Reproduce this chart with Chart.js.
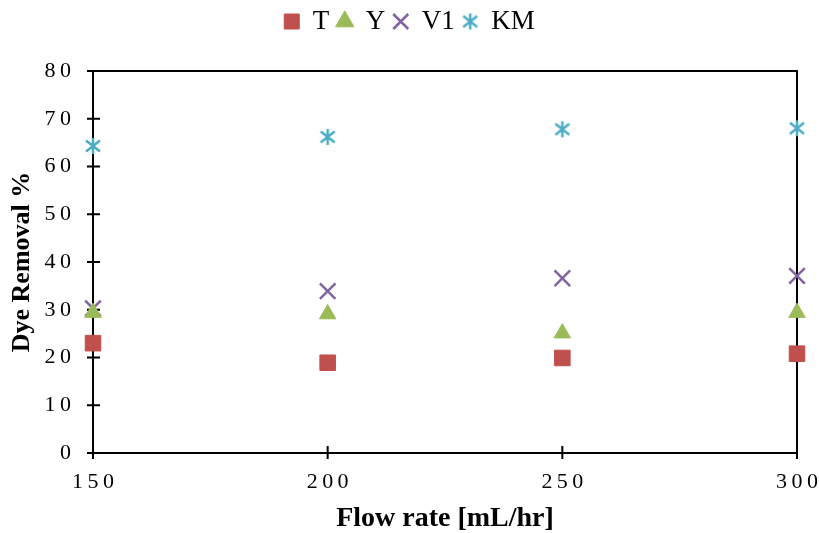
<!DOCTYPE html>
<html>
<head>
<meta charset="utf-8">
<title>Dye removal vs flow rate</title>
<script src="https://cdn.jsdelivr.net/npm/chart.js@4.4.1/dist/chart.umd.min.js"></script>
<style>
  html, body { margin: 0; padding: 0; background: #fff; }
  #dyeChart { display: block; }
</style>
</head>
<body>
<canvas id="dyeChart" width="819" height="533"></canvas>
<script>
// flow rates (mL/hr) and dye removal (%) for each adsorbent
const flowRates = [150, 200, 250, 300];
const removalT  = [23.0, 18.9, 19.9, 20.8];
const removalY  = [29.4, 29.1, 25.1, 29.4];
const removalV1 = [30.3, 33.9, 36.6, 37.1];
const removalKM = [64.3, 66.2, 67.8, 68.0];

const seriesNames  = ['T', 'Y', 'V1', 'KM'];
const seriesColors = ['#C0504D', '#9BBB59', '#8064A2', '#4BACC6'];

const xTickValues = [150, 200, 250, 300];
const yTickValues = [0, 10, 20, 30, 40, 50, 60, 70, 80];

const serif = "'Liberation Serif', 'Times New Roman', serif";

// asterisk marker (X with a vertical bar) for the KM series
function makeStar(color) {
  const c = document.createElement('canvas');
  c.width = 18;
  c.height = 18;
  const g = c.getContext('2d');
  g.strokeStyle = color;
  g.lineWidth = 2.5;
  g.beginPath();
  g.moveTo(2, 3.5); g.lineTo(16, 14.5);
  g.moveTo(16, 3.5); g.lineTo(2, 14.5);
  g.moveTo(9, 1); g.lineTo(9, 17);
  g.stroke();
  return c;
}

function toPoints(values) {
  return flowRates.map((x, i) => ({ x: x, y: values[i] }));
}

// tick marks that cross the axis line on both sides
const crossTicks = {
  id: 'crossTicks',
  beforeDatasetsDraw(chart) {
    const { ctx, chartArea, scales } = chart;
    ctx.save();
    ctx.strokeStyle = '#000';
    ctx.lineWidth = 2;
    ctx.beginPath();
    yTickValues.forEach(v => {
      const y = scales.y.getPixelForValue(v);
      ctx.moveTo(chartArea.left - 6, y);
      ctx.lineTo(chartArea.left + 7, y);
    });
    xTickValues.forEach(v => {
      const x = scales.x.getPixelForValue(v);
      ctx.moveTo(x, chartArea.bottom - 7);
      ctx.lineTo(x, chartArea.bottom + 6);
    });
    ctx.stroke();
    ctx.restore();
  }
};

// digits set apart with thin spaces
const spaced = v => String(v).split('').join('\u2009');

new Chart(document.getElementById('dyeChart'), {
  type: 'scatter',
  data: {
    datasets: [
      {
        label: seriesNames[0],
        data: toPoints(removalT),
        pointStyle: 'rect',
        pointRadius: 11,
        backgroundColor: seriesColors[0],
        borderColor: seriesColors[0],
        borderWidth: 1,
        clip: false
      },
      {
        label: seriesNames[1],
        data: toPoints(removalY),
        pointStyle: 'triangle',
        pointRadius: 9.5,
        backgroundColor: seriesColors[1],
        borderColor: seriesColors[1],
        borderWidth: 1,
        clip: false
      },
      {
        label: seriesNames[2],
        data: toPoints(removalV1),
        pointStyle: 'crossRot',
        pointRadius: 11,
        backgroundColor: seriesColors[2],
        borderColor: seriesColors[2],
        borderWidth: 2.5,
        clip: false
      },
      {
        label: seriesNames[3],
        data: toPoints(removalKM),
        pointStyle: makeStar(seriesColors[3]),
        backgroundColor: seriesColors[3],
        borderColor: seriesColors[3],
        clip: false
      }
    ]
  },
  options: {
    responsive: false,
    animation: false,
    events: [],
    layout: { padding: 0 },
    plugins: {
      tooltip: { enabled: false },
      legend: {
        position: 'top',
        labels: {
          usePointStyle: true,
          boxWidth: 15,
          boxHeight: 15,
          padding: 8,
          color: '#000',
          font: { family: serif, size: 27 }
        }
      }
    },
    scales: {
      x: {
        type: 'linear',
        position: 'bottom',
        min: 150,
        max: 300,
        afterBuildTicks: s => { s.ticks = xTickValues.map(v => ({ value: v })); },
        afterFit: s => { s.height = 80; s.paddingLeft = 0; s.paddingRight = 0; },
        grid: { display: true, drawOnChartArea: false, drawTicks: false },
        border: { display: true, color: '#000', width: 2 },
        ticks: {
          padding: 16,
          color: '#000',
          maxRotation: 0,
          font: { family: serif, size: 22 },
          callback: spaced
        },
        title: {
          display: true,
          text: 'Flow rate [mL/hr]',
          color: '#000',
          padding: { top: 0, bottom: 0 },
          font: { family: serif, size: 28, weight: 'bold', lineHeight: 1 }
        }
      },
      xTop: {
        type: 'linear',
        position: 'top',
        min: 150,
        max: 300,
        afterFit: s => { s.height = 26; s.paddingLeft = 0; s.paddingRight = 0; },
        grid: { drawOnChartArea: false, drawTicks: false },
        border: { display: true, color: '#000', width: 2 },
        ticks: { display: false }
      },
      y: {
        type: 'linear',
        position: 'left',
        min: 0,
        max: 80,
        afterBuildTicks: s => { s.ticks = yTickValues.map(v => ({ value: v })); },
        afterFit: s => { s.width = 93; },
        grid: { display: true, drawOnChartArea: false, drawTicks: false },
        border: { display: true, color: '#000', width: 2 },
        ticks: {
          padding: 22,
          color: '#000',
          font: { family: serif, size: 22 },
          callback: spaced
        },
        title: {
          display: true,
          text: 'Dye Removal %',
          color: '#000',
          padding: { top: 9, bottom: 0 },
          font: { family: serif, size: 26, weight: 'bold', lineHeight: 1 }
        }
      },
      yRight: {
        type: 'linear',
        position: 'right',
        min: 0,
        max: 80,
        afterFit: s => { s.width = 22; },
        grid: { drawOnChartArea: false, drawTicks: false },
        border: { display: true, color: '#000', width: 2 },
        ticks: { display: false }
      }
    }
  },
  plugins: [crossTicks]
});
</script>
</body>
</html>
